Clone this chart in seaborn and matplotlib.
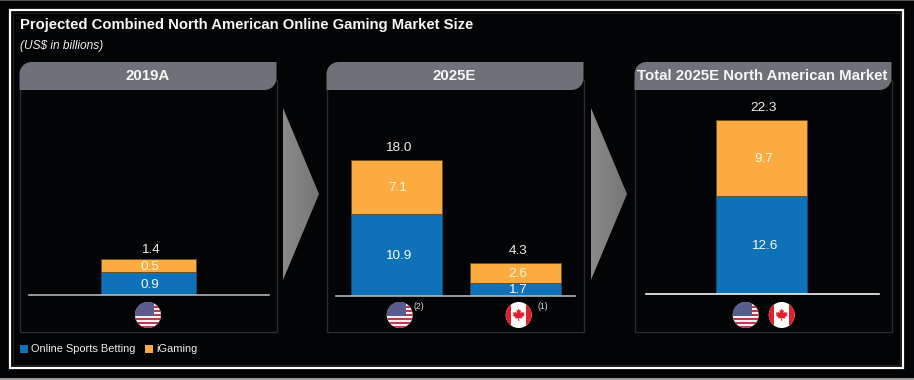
import numpy as np
import pandas as pd
import matplotlib
matplotlib.use("Agg")
import matplotlib.pyplot as plt
from matplotlib.patches import PathPatch, Rectangle, Circle, Polygon
from matplotlib.path import Path
import seaborn as sns

sns.set_theme(style="dark")
plt.rcParams['font.family'] = ['Liberation Sans', 'DejaVu Sans']

W, H = 914, 380
TITLE = "Projected Combined North American Online Gaming Market Size"
SUBTITLE = "(US$ in billions)"
SERIES = ["Online Sports Betting", "iGaming"]
BLUE, ORANGE = "#0F71B8", "#FBAB40"
HEADERS = ["2019A", "2025E", "Total 2025E North American Market"]

cats_2019 = ["US"]
sports_2019 = [0.9]
igaming_2019 = [0.5]
totals_2019 = [1.4]

cats_2025 = ["US", "Canada"]
sports_2025 = [10.9, 1.7]
igaming_2025 = [7.1, 2.6]
totals_2025 = [18.0, 4.3]

cats_total = ["North America"]
sports_total = [12.6]
igaming_total = [9.7]
totals_total = [22.3]

fig = plt.figure(figsize=(W / 100, H / 100), dpi=100, facecolor="black")
bg = fig.add_axes([0, 0, 1, 1], zorder=0)
bg.set_xlim(0, W); bg.set_ylim(H, 0); bg.axis("off")

# page frame
bg.add_patch(Rectangle((0, 0), W, H, fc="#030405", ec="none"))
bg.add_patch(Rectangle((0, 0), W, 1.2, fc="#555555", ec="none"))
bg.add_patch(Rectangle((0, 377.5), W, 3, fc="#9a9a9a", ec="none"))
bg.add_patch(Rectangle((9.7, 10), 893, 358, fc="none", ec="white", lw=1.6))
bg.add_patch(Rectangle((13, 13), 887, 352, fc="none", ec="#1c1e20", lw=0.8))


def header(x0, x1, y0=62, y1=90, r=12):
    k = 0.55 * r
    verts = [(x0 + r, y0), (x1, y0), (x1, y1 - r), (x1, y1 - r + k), (x1 - r + k, y1), (x1 - r, y1),
             (x0, y1), (x0, y0 + r), (x0, y0 + r - k), (x0 + r - k, y0), (x0 + r, y0), (x0 + r, y0)]
    codes = [Path.MOVETO, Path.LINETO, Path.LINETO, Path.CURVE4, Path.CURVE4, Path.CURVE4,
             Path.LINETO, Path.LINETO, Path.CURVE4, Path.CURVE4, Path.CURVE4, Path.CLOSEPOLY]
    return PathPatch(Path(verts, codes), fc="#6E7278", ec="none", zorder=3)


panels = [(19.5, 276.5), (326.5, 583.5), (634.5, 891.5)]
for (x0, x1), head in zip(panels, HEADERS):
    bg.add_patch(Rectangle((x0, 80), x1 - x0, 252, fc="none", ec="#292b2e", lw=1.0, zorder=2))
    bg.add_patch(header(x0, x1))
    bg.text((x0 + x1) / 2 - 0.5, 76.5, head, color="#F6F6F6", fontsize=10.8, fontweight="bold",
            ha="center", va="center", zorder=4)

# arrows with a soft horizontal gradient
grad = np.linspace(0, 1, 64).reshape(1, -1)
cmap = matplotlib.colors.LinearSegmentedColormap.from_list("g", ["#8A8A8A", "#767676"])
for ax0 in (283, 591):
    tri = Polygon([(ax0, 108), (ax0 + 36, 194), (ax0, 280)], closed=True, fc="none", ec="none",
                  transform=bg.transData)
    bg.add_patch(tri)
    im = bg.imshow(grad, extent=(ax0, ax0 + 36, 280, 108), cmap=cmap, aspect="auto", zorder=1)
    im.set_clip_path(tri)
bg.set_xlim(0, W); bg.set_ylim(H, 0)

bg.text(20, 25.5, TITLE, color="#F6F6F6", fontsize=10.72, fontweight="bold", va="center", ha="left")
bg.text(20, 45.5, SUBTITLE, color="#F0F0F0", fontsize=8.6, fontstyle="italic", va="center", ha="left")

# legend
for xs, c, lab in zip((20, 145), (BLUE, ORANGE), SERIES):
    bg.add_patch(Rectangle((xs, 345), 7.5, 7.5, fc=c, ec="none"))
    bg.text(xs + 11, 349, lab, color="#EDEDED", fontsize=7.9, va="center", ha="left")


def stacked(px0, px1, base_px, cats, blue, orange, totals, px_per_unit, c0_px, bar_px, step_px,
            base_color, pad):
    top_px = 100
    ax = fig.add_axes([px0 / W, 1 - base_px / H, (px1 - px0) / W, (base_px - top_px) / H], zorder=3)
    ax.patch.set_alpha(0)
    df = pd.DataFrame({"cat": cats, "blue": blue, "orange": orange})
    sns.barplot(data=df, x="cat", y="blue", color=BLUE, ax=ax, width=bar_px / step_px, saturation=1,
                order=cats, edgecolor="#0C4F80", linewidth=0.6)
    sns.barplot(data=df, x="cat", y="orange", color=ORANGE, ax=ax, width=bar_px / step_px, saturation=1,
                order=cats, bottom=df["blue"].values, edgecolor="#6E4C1E", linewidth=0.7)
    ax.set_xlim((px0 - c0_px) / step_px, (px1 - c0_px) / step_px)
    ax.set_ylim(0, (base_px - top_px) / px_per_unit)
    ax.set_xlabel(""); ax.set_ylabel(""); ax.set_xticks([]); ax.set_yticks([])
    ax.grid(False)
    for s in ("top", "left", "right"):
        ax.spines[s].set_visible(False)
    ax.spines["bottom"].set_color(base_color); ax.spines["bottom"].set_linewidth(1.2)
    for i, (b, o, t) in enumerate(zip(blue, orange, totals)):
        for yv, lab, col in ((b / 2, b, "#F4F8FC"), (b + o / 2, o, "#FFF6E8")):
            ax.annotate(f"{lab:.1f}", (i, yv), xytext=(1.4, -0.8), textcoords="offset points", color=col,
                        fontsize=9.7, ha="center", va="center")
        ax.annotate(f"{t:.1f}", (i, t), xytext=(1.4, pad), textcoords="offset points", color="#EDEDED",
                    fontsize=9.7, ha="center", va="center")
    return ax


stacked(29, 268.5, 295.3, cats_2019, sports_2019, igaming_2019, totals_2019, 25.7, 148.4, 95, 119.7,
        "#B4B4B4", 6.6)
stacked(336, 575, 295.7, cats_2025, sports_2025, igaming_2025, totals_2025, 7.54, 396, 91, 119.7,
        "#AEB2B6", 8.6)
stacked(646, 879, 294.3, cats_total, sports_total, igaming_total, totals_total, 7.82, 762, 91, 119.7,
        "#F4F4F4", 8.4)

top = fig.add_axes([0, 0, 1, 1], zorder=5)
top.set_xlim(0, W); top.set_ylim(H, 0); top.axis("off"); top.patch.set_alpha(0)


def us_flag(cx, cy, r=13):
    clip = Circle((cx, cy), r, transform=top.transData, fc="#F4EEF0", ec="none")
    top.add_patch(clip)
    n = 13
    for i in range(0, n, 2):
        p = Rectangle((cx - r, cy - r + i * 2 * r / n), 2 * r, 2 * r / n, fc="#BE3A4E", ec="none")
        top.add_patch(p); p.set_clip_path(clip)
    p = Rectangle((cx - r, cy - r), 1.45 * r, 1.08 * r, fc="#5A5C8E", ec="none")
    top.add_patch(p); p.set_clip_path(clip)


LEAF = [(0, -.62), (.11, -.42), (.22, -.48), (.16, -.15), (.32, -.32), (.36, -.22), (.56, -.26),
        (.49, -.05), (.58, 0), (.3, .24), (.34, .34), (.04, .3), (.04, .58), (-.04, .58), (-.04, .3),
        (-.34, .34), (-.3, .24), (-.58, 0), (-.49, -.05), (-.56, -.26), (-.36, -.22), (-.32, -.32),
        (-.16, -.15), (-.22, -.48), (-.11, -.42)]


def ca_flag(cx, cy, r=13):
    clip = Circle((cx, cy), r, transform=top.transData, fc="white", ec="none")
    top.add_patch(clip)
    for x0 in (cx - r, cx + 0.56 * r):
        p = Rectangle((x0, cy - r), 0.44 * r, 2 * r, fc="#E0202A", ec="none")
        top.add_patch(p); p.set_clip_path(clip)
    s = 0.8 * r
    top.add_patch(Polygon([(cx + a * s, cy + b * s) for a, b in LEAF], closed=True, fc="#E0202A", ec="none"))


for cx in (148, 399.7, 745.7):
    us_flag(cx, 315)
for cx in (518.7, 781.7):
    ca_flag(cx, 315)
top.text(414, 306.5, "(2)", color="#DDDDDD", fontsize=6.2, va="center", ha="left")
top.text(537, 306.5, "(1)", color="#DDDDDD", fontsize=6.2, va="center", ha="left")

fig.savefig("out.png", dpi=100, facecolor="black")
